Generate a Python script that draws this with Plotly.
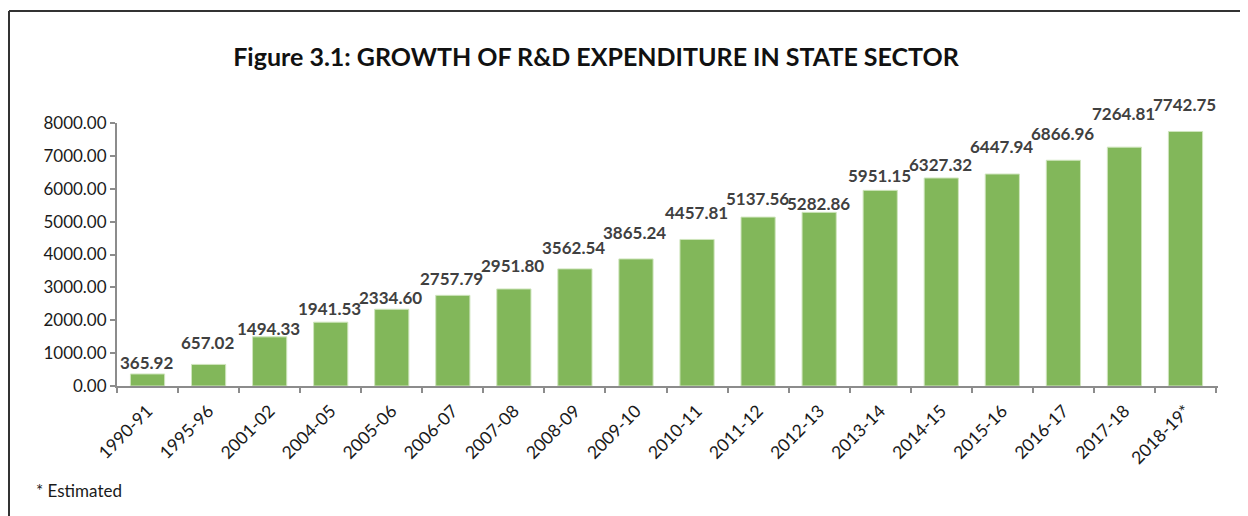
import plotly.graph_objects as go

years = ['1990-91', '1995-96', '2001-02', '2004-05', '2005-06', '2006-07', '2007-08',
         '2008-09', '2009-10', '2010-11', '2011-12', '2012-13', '2013-14', '2014-15',
         '2015-16', '2016-17', '2017-18', '2018-19*']
expenditure = [365.92, 657.02, 1494.33, 1941.53, 2334.60, 2757.79, 2951.80,
               3562.54, 3865.24, 4457.81, 5137.56, 5282.86, 5951.15, 6327.32,
               6447.94, 6866.96, 7264.81, 7742.75]

# how far (px) each value label sits above its bar, as placed in the original
label_lift = [11, 22, 8, 14, 12, 17, 23, 21, 26, 27, 19, 9, 15, 13, 28, 27, 34, 27]

# page has an 8px body margin, so the figure starts at (8, 8)
OFF = 8
W, H = 1248 - OFF, 516 - OFF
L, R, T, B = 117 - OFF, 30, 123 - OFF, 130
pw, ph = W - L - R, H - T - B

def px(x):
    return (x - OFF - L) / pw

def py(y):
    return (H - B - (y - OFF)) / ph

fig = go.Figure()
fig.add_trace(go.Bar(
    x=years, y=expenditure,
    marker=dict(color='#82B75A', line=dict(color='#cfe5bd', width=1)),
    cliponaxis=False,
))

for yr, v, lift in zip(years, expenditure, label_lift):
    fig.add_annotation(x=yr, y=v, text=f'<b>{v:.2f}</b>', showarrow=False,
                       yanchor='middle', yshift=lift, xshift=-1,
                       font=dict(family='Lato', size=17, color='#404040'))

fig.update_layout(
    width=W, height=H,
    margin=dict(l=L, r=R, t=T, b=B),
    paper_bgcolor='white', plot_bgcolor='white',
    font=dict(family='Lato', color='#1a1a1a'),
    bargap=0.44,
    showlegend=False,
    title=dict(text='<b>Figure 3.1: GROWTH OF R&D EXPENDITURE IN STATE SECTOR</b>',
               x=(596 - OFF) / W, xanchor='center', y=1 - (57 - OFF) / H, yanchor='middle',
               font=dict(family='Lato', size=25, color='#111111')),
    xaxis=dict(
        type='category',
        showline=True, linecolor='#8c8c8c', linewidth=2,
        ticks='outside', tickson='boundaries', ticklen=5, tickcolor='#8c8c8c', tickwidth=2,
        tickangle=-45, tickfont=dict(family='Lato', size=17.5, color='#1a1a1a'),
        ticklabelstandoff=6,
        showgrid=False,
    ),
    yaxis=dict(
        range=[0, 8000], dtick=1000, tickformat='.2f',
        showline=True, linecolor='#8c8c8c', linewidth=2,
        ticks='outside', ticklen=5, tickcolor='#8c8c8c', tickwidth=2,
        tickfont=dict(family='Lato', size=17, color='#1a1a1a'),
        showgrid=False, zeroline=False,
    ),
)

# outer frame (left and top edges visible)
fig.add_shape(type='line', xref='paper', yref='paper',
              x0=px(9), x1=px(9), y0=py(11), y1=py(520),
              line=dict(color='#333333', width=2))
fig.add_shape(type='line', xref='paper', yref='paper',
              x0=px(9), x1=px(1260), y0=py(11), y1=py(11),
              line=dict(color='#333333', width=2))

fig.add_annotation(text='* Estimated', xref='paper', yref='paper',
                   x=px(34), y=py(490), xanchor='left', yanchor='middle',
                   showarrow=False, font=dict(family='Lato', size=17, color='#1a1a1a'))

fig.write_html('out.html')
